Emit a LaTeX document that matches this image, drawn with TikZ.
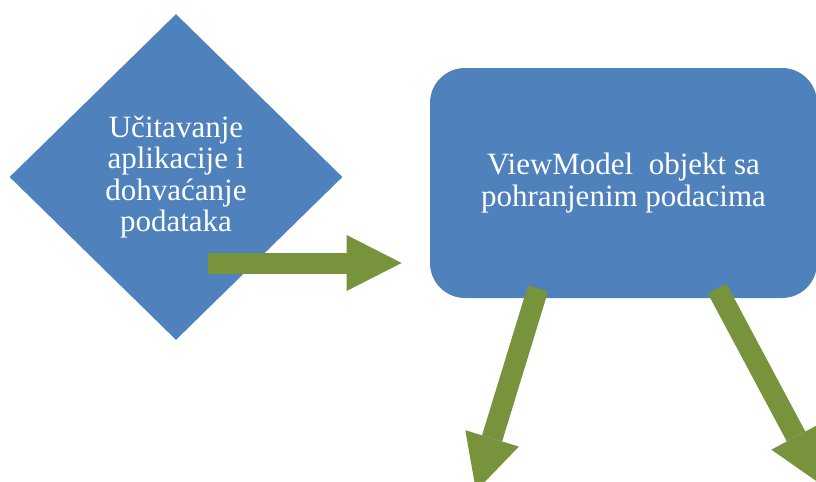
\documentclass[tikz,border=0pt]{standalone}
\usepackage{fontspec}
\setmainfont{Liberation Serif}
\usepackage{tikz}
\usetikzlibrary{calc,shapes,arrows.meta,positioning}
\definecolor{boxblue}{HTML}{4F81BD}
\definecolor{flowgreen}{HTML}{77933C}
\tikzstyle{every node}=[font=\fontsize{15.5}{15.75}\selectfont,text=white]
\tikzstyle{every edge}=[draw=flowgreen,line width=10.5pt,
        -{Triangle[length=27.5pt,width=28pt,line width=0pt]},auto]

\begin{document}
\begin{tikzpicture}[x=0.5pt,y=-0.5pt]
        \tikzstyle{loadbox}=[diamond,fill=boxblue,draw=none,inner sep=0pt,
        minimum width=166.5pt,minimum height=163pt,align=center]
        \tikzstyle{modelbox}=[rectangle,rounded corners=17.5pt,fill=boxblue,
        draw=none,minimum width=193.5pt,minimum height=115pt,align=center]

        \useasboundingbox (0,0) rectangle (816,482);

        \node (load) [loadbox] at (176,177) {U\v{c}itavanje\\aplikacije i\\dohva\'{c}anje\\podataka};
        \node (vm) [modelbox] at (623.5,183) {ViewModel\ \ objekt sa\\pohranjenim podacima};

        % free ends of the arrows:
        \coordinate (load_out) at ($(load.center)+(32,86)$);
        \coordinate (vm_in) at ($(vm.west)+(-28,80)$);
        \coordinate (vm_outl) at ($(vm.south)+(-85.5,-10)$);
        \coordinate (vm_outr) at ($(vm.south)+(93.5,-10)$);
        \coordinate (endl) at (476,491);
        \coordinate (endr) at (822,485);

        \path
        (load_out) edge (vm_in)
        (vm_outl) edge (endl)
        (vm_outr) edge (endr);
\end{tikzpicture}
\end{document}
